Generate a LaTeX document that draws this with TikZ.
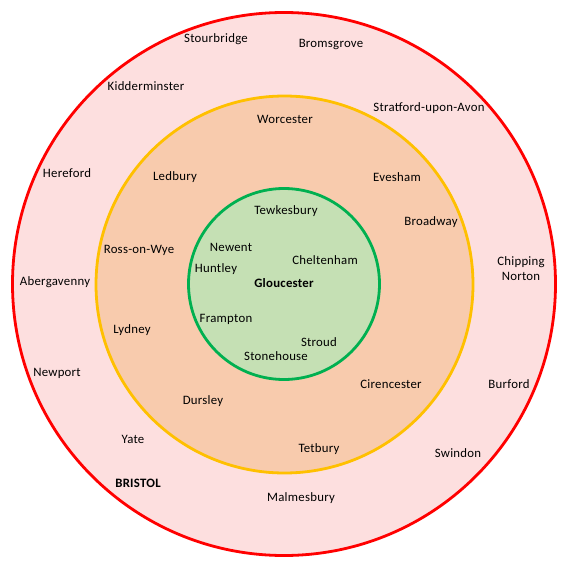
\documentclass[tikz,border=0pt]{standalone}
\usepackage{fontspec}
\setmainfont{Carlito}[LetterSpace=2]
\definecolor{outerfill}{HTML}{FDDFDF}
\definecolor{midfill}{HTML}{F8CBAD}
\definecolor{innerfill}{HTML}{C5E0B4}
\definecolor{redline}{HTML}{FF0000}
\definecolor{goldline}{HTML}{FFC000}
\definecolor{greenline}{HTML}{00B050}
\begin{document}
\begin{tikzpicture}[x=1pt,y=-1pt,
  town/.style={font=\fontsize{12.8}{15.5}\selectfont, text=black, inner sep=0pt, align=center},
  bigtown/.style={town, font=\fontsize{12.8}{15.5}\selectfont\bfseries},
  ring/.style={line width=2.8pt}]
\useasboundingbox (0,0) rectangle (567,567);
\fill[white] (0,0) rectangle (567,567);
\draw[ring, draw=redline, fill=outerfill] (284,284) circle (271.5);
\draw[ring, draw=goldline, fill=midfill] (284.5,284.5) circle (188.5);
\draw[ring, draw=greenline, fill=innerfill] (284,284) circle (95.5);
% outer ring
\node[town] (stourbridge) at (216,39.5) {Stourbridge};
\node[town] (bromsgrove) at (331,44.5) {Bromsgrove};
\node[town] (kidderminster) at (146,86.5) {Kidderminster};
\node[town] (stratford) at (429,108.5) {Stratford-upon-Avon};
\node[town] (hereford) at (67,173.5) {Hereford};
\node[town] (chipping) at (521,268.5) {Chipping\\Norton};
\node[town] (abergavenny) at (55,282.5) {Abergavenny};
\node[town] (newport) at (57,373.5) {Newport};
\node[town] (burford) at (509,384.5) {Burford};
\node[town] (yate) at (133,439.5) {Yate};
\node[town] (swindon) at (458,453.5) {Swindon};
\node[bigtown] (bristol) at (138,483.5) {BRISTOL};
\node[town] (malmesbury) at (301,498.5) {Malmesbury};
% middle ring
\node[town] (worcester) at (285,119.5) {Worcester};
\node[town] (ledbury) at (175,177.5) {Ledbury};
\node[town] (evesham) at (397,177.5) {Evesham};
\node[town] (broadway) at (431,222.5) {Broadway};
\node[town] (ross) at (139,250.5) {Ross-on-Wye};
\node[town] (lydney) at (132,330.5) {Lydney};
\node[town] (cirencester) at (391,384.5) {Cirencester};
\node[town] (dursley) at (203,401.5) {Dursley};
\node[town] (tetbury) at (319,449.5) {Tetbury};
% inner circle
\node[town] (tewkesbury) at (286,211.5) {Tewkesbury};
\node[town] (newent) at (231,247.5) {Newent};
\node[town] (cheltenham) at (325,260.5) {Cheltenham};
\node[town] (huntley) at (216,269.5) {Huntley};
\node[bigtown] (gloucester) at (284,283.5) {Gloucester};
\node[town] (frampton) at (226,319.5) {Frampton};
\node[town] (stroud) at (319,342.5) {Stroud};
\node[town] (stonehouse) at (276,356.5) {Stonehouse};
\end{tikzpicture}
\end{document}
